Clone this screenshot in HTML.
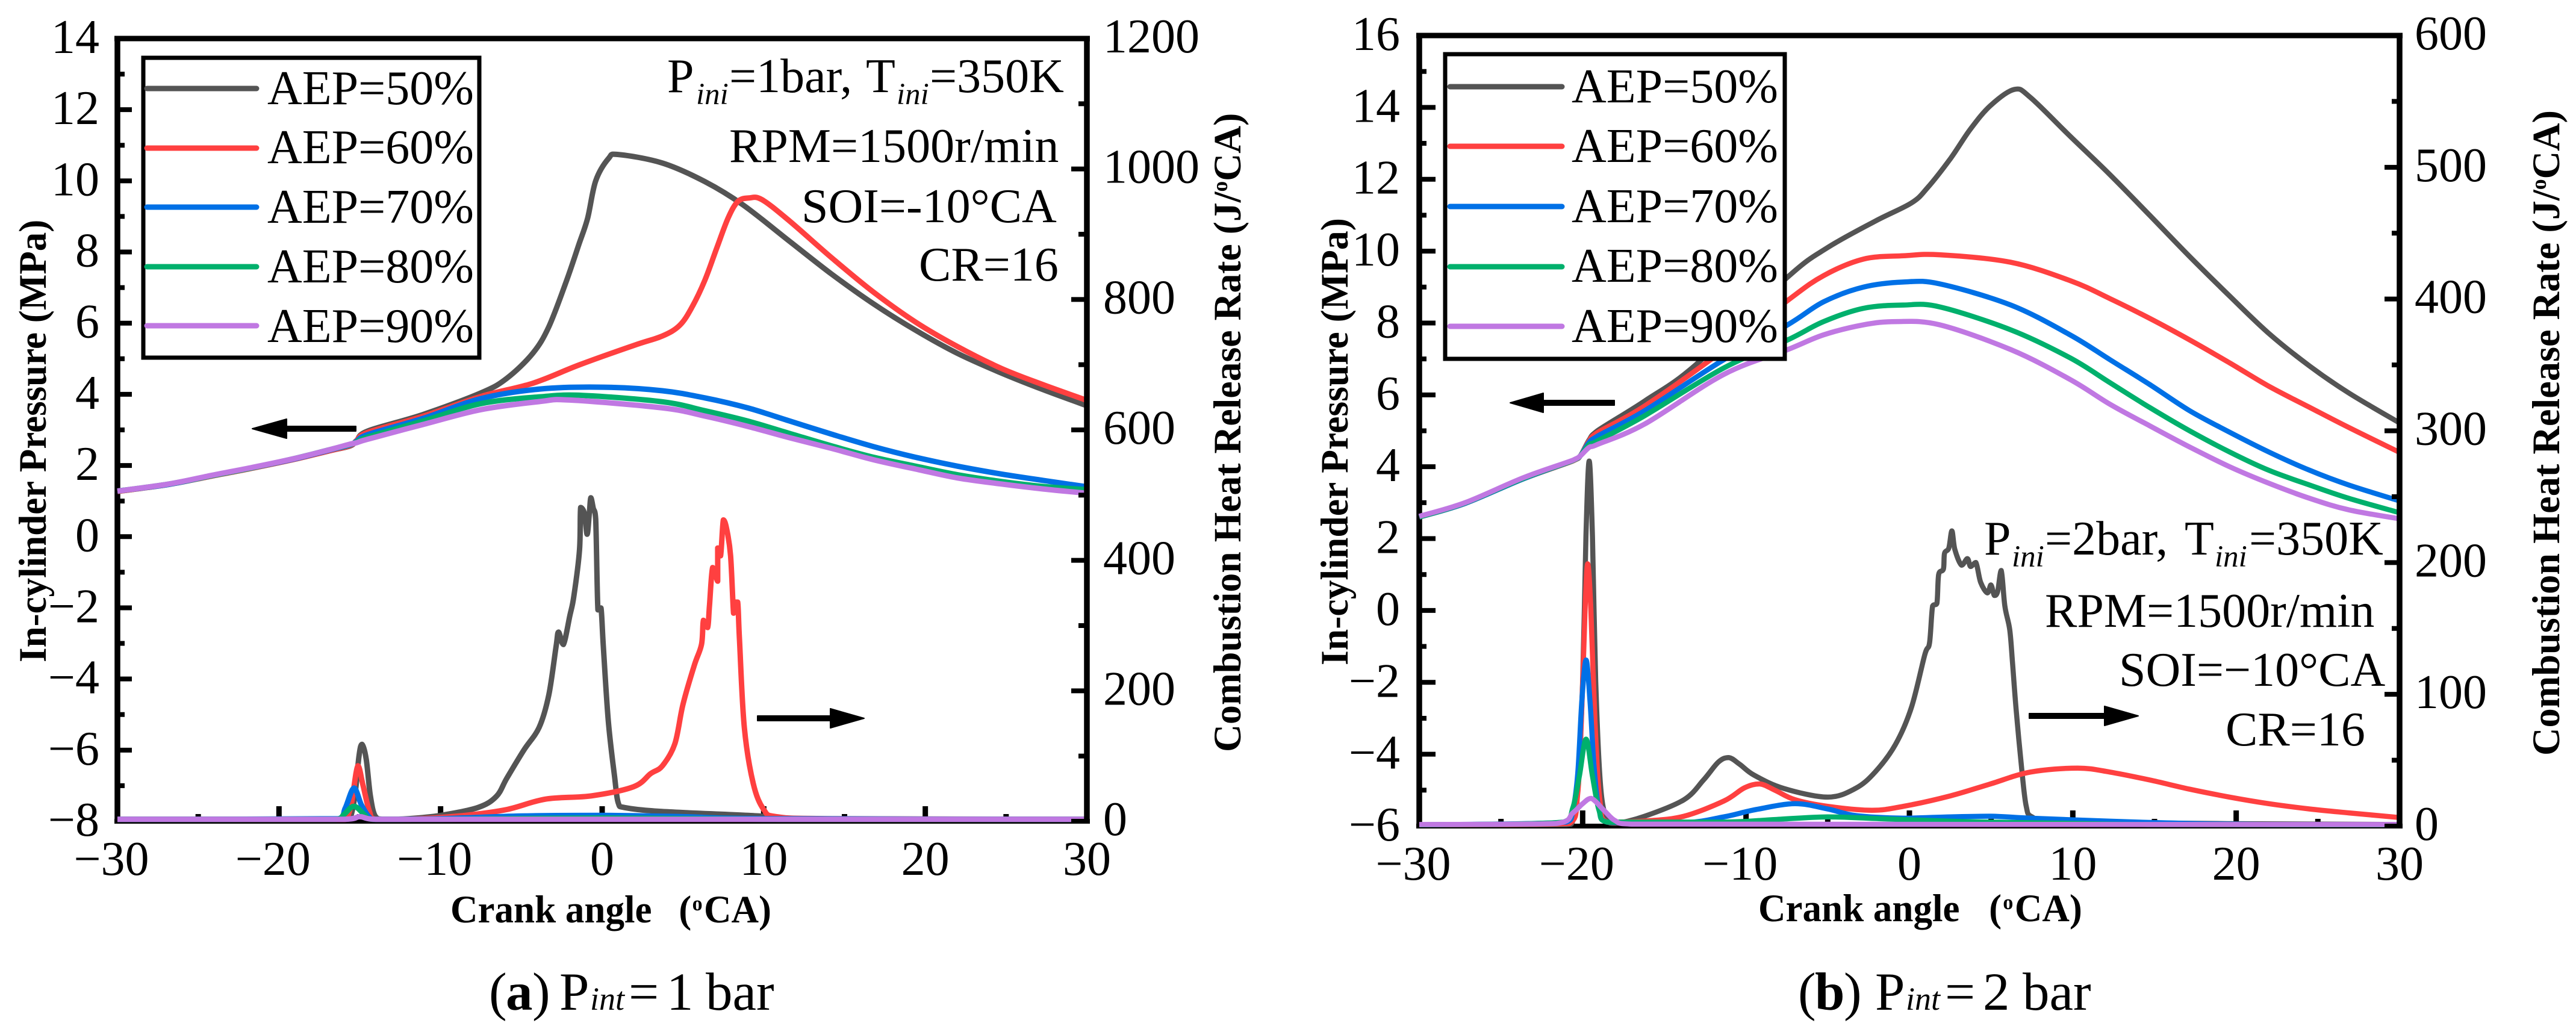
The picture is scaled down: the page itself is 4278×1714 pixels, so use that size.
<!DOCTYPE html>
<html lang="en">
<head>
<meta charset="utf-8">
<title>In-cylinder pressure and heat release rate</title>
<style>
html,body{margin:0;padding:0;background:#fff;}
svg{display:block;}
text{font-family:"Liberation Serif","Times New Roman",serif;fill:#000;}
.t{font-size:80px;}
.leg{font-size:80px;}
.sub{font-size:51px;font-style:italic;}
.b{font-weight:bold;}
.cap{font-size:89px;}
.capsub{font-size:54px;font-style:italic;}
</style>
</head>
<body>
<svg id="figure" xmlns="http://www.w3.org/2000/svg" width="4278" height="1714" viewBox="0 0 4278 1714">
<rect x="0" y="0" width="4278" height="1714" fill="#fff"/>

<g id="panel-a"></g>
<g id="panel-b"></g>

<!-- Panel A legend -->
<g>
  <rect x="238" y="96" width="558" height="498" fill="#fff" stroke="#000" stroke-width="7"/>
  <g><line x1="244" y1="147" x2="426" y2="147" stroke="#545454" stroke-width="9" stroke-linecap="round"/><text class="leg" x="444" y="173">AEP=50%</text></g>
  <g><line x1="244" y1="246" x2="426" y2="246" stroke="#ff4040" stroke-width="9" stroke-linecap="round"/><text class="leg" x="444" y="271">AEP=60%</text></g>
  <g><line x1="244" y1="344" x2="426" y2="344" stroke="#0070e6" stroke-width="9" stroke-linecap="round"/><text class="leg" x="444" y="370">AEP=70%</text></g>
  <g><line x1="244" y1="443" x2="426" y2="443" stroke="#00b06c" stroke-width="9" stroke-linecap="round"/><text class="leg" x="444" y="469">AEP=80%</text></g>
  <g><line x1="244" y1="541" x2="426" y2="541" stroke="#c078e2" stroke-width="9" stroke-linecap="round"/><text class="leg" x="444" y="568">AEP=90%</text></g>
</g>

<!-- Panel A annotations -->
<g>
  <text class="t"><tspan x="1108" y="153">P</tspan><tspan class="sub" x="1156" y="173">ini</tspan><tspan x="1211" y="153">=1bar,</tspan><tspan x="1438" y="153">T</tspan><tspan class="sub" x="1489" y="173">ini</tspan><tspan x="1544" y="153">=350K</tspan></text>
  <text class="t" x="1211" y="269">RPM=1500r/min</text>
  <text class="t" x="1331" y="369">SOI=-10°CA</text>
  <text class="t" x="1526" y="466">CR=16</text>
</g>

<!-- Panel A arrows -->
<path d="M419 712 L476 696 L476 708 L591 708 L591 716 L476 716 L476 728 Z" fill="#000" stroke="#000" stroke-width="2" stroke-linejoin="round"/>
<path d="M1435 1193 L1379 1177 L1379 1189 L1258 1189 L1258 1197 L1379 1197 L1379 1209 Z" fill="#000" stroke="#000" stroke-width="2" stroke-linejoin="round"/>

<!-- Panel A titles -->
<text class="b" font-size="65" transform="translate(76,1100) rotate(-90) scale(0.97,1)">In-cylinder Pressure (MPa)</text>
<text class="b" font-size="65" transform="translate(2060,1249) rotate(-90) scale(0.98,1)">Combustion Heat Release Rate (J/<tspan font-size="36" dy="-22">o</tspan><tspan dy="22">CA)</tspan></text>
<text class="b" font-size="65" transform="translate(748,1532) scale(0.97,1)"><tspan x="0" y="0">Crank angle</tspan><tspan x="391" y="0">(</tspan><tspan font-size="35" x="414" y="-20">o</tspan><tspan x="434" y="0">CA)</tspan></text>
<text class="cap"><tspan x="812" y="1677">(</tspan><tspan class="b" x="840" y="1677">a</tspan><tspan x="884" y="1677">)</tspan><tspan x="929" y="1677">P</tspan><tspan class="capsub" x="980" y="1677">int</tspan><tspan x="1044" y="1677">=</tspan><tspan x="1107" y="1677">1</tspan><tspan x="1172" y="1677">bar</tspan></text>

<!-- Panel B legend -->
<g>
  <rect x="2400" y="90" width="564" height="506" fill="#fff" stroke="#000" stroke-width="7"/>
  <g><line x1="2408" y1="144" x2="2594" y2="144" stroke="#545454" stroke-width="9" stroke-linecap="round"/><text class="leg" x="2610" y="170">AEP=50%</text></g>
  <g><line x1="2408" y1="243" x2="2594" y2="243" stroke="#ff4040" stroke-width="9" stroke-linecap="round"/><text class="leg" x="2610" y="269">AEP=60%</text></g>
  <g><line x1="2408" y1="343" x2="2594" y2="343" stroke="#0070e6" stroke-width="9" stroke-linecap="round"/><text class="leg" x="2610" y="369">AEP=70%</text></g>
  <g><line x1="2408" y1="443" x2="2594" y2="443" stroke="#00b06c" stroke-width="9" stroke-linecap="round"/><text class="leg" x="2610" y="468">AEP=80%</text></g>
  <g><line x1="2408" y1="542" x2="2594" y2="542" stroke="#c078e2" stroke-width="9" stroke-linecap="round"/><text class="leg" x="2610" y="568">AEP=90%</text></g>
</g>

<!-- Panel B annotations -->
<g>
  <text class="t"><tspan x="3295" y="921">P</tspan><tspan class="sub" x="3341" y="941">ini</tspan><tspan x="3396" y="921">=2bar,</tspan><tspan x="3628" y="921">T</tspan><tspan class="sub" x="3678" y="941">ini</tspan><tspan x="3735" y="921">=350K</tspan></text>
  <text class="t" x="3396" y="1041">RPM=1500r/min</text>
  <text class="t" x="3519" y="1139">SOI=−10°CA</text>
  <text class="t" x="3696" y="1238">CR=16</text>
</g>

<!-- Panel B arrows -->
<path d="M2508 669 L2563 653 L2563 665 L2681 665 L2681 673 L2563 673 L2563 685 Z" fill="#000" stroke="#000" stroke-width="2" stroke-linejoin="round"/>
<path d="M3551 1189 L3495 1173 L3495 1185 L3370 1185 L3370 1193 L3495 1193 L3495 1205 Z" fill="#000" stroke="#000" stroke-width="2" stroke-linejoin="round"/>

<!-- Panel B titles -->
<text class="b" font-size="65" transform="translate(2238,1105) rotate(-90) scale(0.98,1)">In-cylinder Pressure (MPa)</text>
<text class="b" font-size="65" transform="translate(4250,1255) rotate(-90) scale(0.99,1)">Combustion Heat Release Rate (J/<tspan font-size="36" dy="-22">o</tspan><tspan dy="22">CA)</tspan></text>
<text class="b" font-size="65" transform="translate(2920,1530) scale(0.97,1)"><tspan x="0" y="0">Crank angle</tspan><tspan x="395" y="0">(</tspan><tspan font-size="35" x="419" y="-20">o</tspan><tspan x="439" y="0">CA)</tspan></text>
<text class="cap"><tspan x="2986" y="1677">(</tspan><tspan class="b" x="3014" y="1677">b</tspan><tspan x="3062" y="1677">)</tspan><tspan x="3114" y="1677">P</tspan><tspan class="capsub" x="3165" y="1677">int</tspan><tspan x="3230" y="1677">=</tspan><tspan x="3293" y="1677">2</tspan><tspan x="3359" y="1677">bar</tspan></text>
</svg>

<script>
// ---------- shared tick values ----------
const crankTicks = [-30, -20, -10, 0, 10, 20, 30];
const crankMinorTicks = [-25, -15, -5, 5, 15, 25];

// ---------- panel A axes ----------
const aPressureTicks = [-8, -6, -4, -2, 0, 2, 4, 6, 8, 10, 12, 14];
const aPressureMinorTicks = [-7, -5, -3, -1, 1, 3, 5, 7, 9, 11, 13];
const aHeatTicks = [0, 200, 400, 600, 800, 1000, 1200];
const aHeatMinorTicks = [100, 300, 500, 700, 900, 1100];

// ---------- panel A pressure (MPa) ----------
const aPressAngle50 = [-30, -26.8, -24.2, -21.6, -19, -16.9, -15.6, -15.2, -14.5, -11.1, -7.5, -5.9, -4.3, -3.3, -2.2, -1.45, -0.9, -0.4, 0.4, 1.0, 3.73, 6.35, 8.7, 11.6, 14.2, 16.8, 19.4, 22, 24.7, 27.3, 30];
const aPress50 = [1.27, 1.47, 1.7, 1.93, 2.18, 2.41, 2.55, 2.7, 2.97, 3.43, 4.04, 4.45, 5.15, 5.9, 7.2, 8.2, 8.95, 10, 10.63, 10.74, 10.5, 9.98, 9.33, 8.3, 7.38, 6.54, 5.8, 5.15, 4.6, 4.13, 3.68];
const aPressAngle60 = [-30, -26.8, -24.2, -21.6, -19, -16.9, -15.6, -15.2, -14.5, -11.1, -7.5, -4.3, -1.4, 2, 3.73, 4.8, 5.56, 6.35, 7.1, 7.8, 8.4, 9.1, 9.9, 11.6, 14.2, 16.8, 19.4, 22, 24.7, 27.3, 30];
const aPress60 = [1.27, 1.47, 1.7, 1.93, 2.18, 2.41, 2.56, 2.7, 2.93, 3.38, 3.94, 4.31, 4.83, 5.38, 5.64, 5.94, 6.45, 7.2, 8.12, 8.96, 9.42, 9.52, 9.47, 8.87, 7.84, 6.87, 6.03, 5.34, 4.73, 4.27, 3.83];
const aPressAngle70 = [-30, -26.8, -24.2, -21.6, -19, -16.9, -15.6, -15.2, -14.5, -11.1, -7.5, -3.8, 0.1, 3.73, 6.35, 9, 11.6, 14.2, 16.8, 19.4, 22, 24.7, 27.3, 30];
const aPress70 = [1.28, 1.47, 1.71, 1.94, 2.19, 2.43, 2.58, 2.68, 2.87, 3.32, 3.88, 4.15, 4.2, 4.1, 3.9, 3.62, 3.25, 2.88, 2.53, 2.23, 1.98, 1.76, 1.58, 1.4];
const aPressAngle80 = [-30, -26.8, -24.2, -21.6, -19, -16.9, -15.6, -15.2, -14.5, -11.1, -7.5, -3.8, -1.2, 3.73, 6.35, 9, 11.6, 14.2, 16.8, 19.4, 22, 24.7, 27.3, 30];
const aPress80 = [1.28, 1.48, 1.71, 1.94, 2.2, 2.44, 2.59, 2.66, 2.8, 3.25, 3.74, 3.93, 3.97, 3.79, 3.54, 3.25, 2.9, 2.55, 2.23, 1.98, 1.74, 1.55, 1.41, 1.32];
const aPressAngle90 = [-30, -26.8, -24.2, -21.6, -19, -16.9, -15.6, -15.2, -14.5, -11.1, -7.5, -3.8, -2, 3.73, 6.35, 9, 11.6, 14.2, 16.8, 19.4, 22, 24.7, 27.3, 30];
const aPress90 = [1.28, 1.48, 1.72, 1.95, 2.2, 2.44, 2.6, 2.64, 2.74, 3.15, 3.57, 3.8, 3.84, 3.62, 3.39, 3.1, 2.78, 2.48, 2.16, 1.9, 1.65, 1.48, 1.34, 1.22];

// ---------- panel A heat release rate (J/degCA) ----------
const aHeatAngle50 = [-30, -16, -15.6, -15.3, -15.05, -14.86, -14.6, -14.35, -14.05, -13.5, -12, -10, -7.7, -6.55, -5.9, -4.85, -3.9, -3.3, -2.85, -2.7, -2.4, -2, -1.75, -1.4, -1.33, -1.1, -0.93, -0.8, -0.7, -0.55, -0.4, -0.26, -0.07, 0.07, 0.38, 0.77, 1.0, 1.4, 3.7, 9.73, 11, 30];
const aHeat50 = [3, 3, 5, 40, 100, 118, 95, 40, 8, 3, 4, 9, 21, 38, 66, 109, 144, 194, 268, 290, 271, 315, 345, 416, 481, 472, 440, 470, 496, 480, 463, 324, 327, 269, 154, 68, 28, 21, 15, 8, 3, 3];
const aHeatAngle60 = [-30, -16, -15.8, -15.5, -15.12, -14.8, -14.4, -14, -12, -8.5, -5.9, -3.5, -0.66, 1.95, 3, 3.73, 4.5, 5.0, 5.7, 6.15, 6.27, 6.53, 6.64, 6.84, 7.15, 7.15, 7.33, 7.5, 7.7, 7.95, 8.13, 8.2, 8.39, 8.5, 8.8, 9.35, 10, 10.8, 14.2, 30];
const aHeat60 = [3, 3, 4, 30, 85, 55, 15, 3, 3, 9, 18, 34, 39, 53, 73, 85, 119, 179, 239, 271, 308, 297, 330, 389, 368, 419, 407, 462, 449, 407, 319, 336, 336, 278, 144, 58, 18, 7, 4, 3];
const aHeatAngle70 = [-30, -16.3, -15.9, -15.36, -14.9, -14.4, -14, -10, -5, 0, 5, 10, 30];
const aHeat70 = [3, 4, 20, 51, 25, 6, 3, 4, 8, 9, 7, 4, 3];
const aHeatAngle80 = [-30, -16.5, -16, -15.36, -14.7, -14.2, -10, 0, 10, 30];
const aHeat80 = [3, 3, 10, 23, 10, 3, 3, 5, 3, 3];
const aHeatAngle90 = [-30, -16, -15, -14, -10, 30];
const aHeat90 = [3, 3, 7, 3, 3, 3];

// ---------- panel B axes ----------
const bPressureTicks = [-6, -4, -2, 0, 2, 4, 6, 8, 10, 12, 14, 16];
const bPressureMinorTicks = [-5, -3, -1, 1, 3, 5, 7, 9, 11, 13, 15];
const bHeatTicks = [0, 100, 200, 300, 400, 500, 600];
const bHeatMinorTicks = [50, 150, 250, 350, 450, 550];

// ---------- panel B pressure (MPa) ----------
const bPressAngle50 = [-30, -27.2, -23.6, -20.6, -20.15, -19.6, -19.1, -16.2, -13.07, -7.45, -5, -2.07, 0.12, 1.1, 2.52, 3.74, 4.96, 6.42, 7.4, 9.83, 12.27, 14.7, 17.15, 19.6, 22, 24.5, 26.9, 30];
const bPress50 = [2.6, 2.98, 3.67, 4.16, 4.3, 4.75, 5.0, 5.83, 6.84, 9.28, 10.1, 10.84, 11.34, 11.76, 12.58, 13.4, 14.05, 14.5, 14.28, 13.2, 12.13, 11.0, 9.85, 8.75, 7.71, 6.8, 6.05, 5.22];
const bPressAngle60 = [-30, -27.2, -23.6, -20.6, -20.15, -19.6, -19.1, -16.2, -11.36, -7.45, -5.25, -2.8, -0.36, 1.84, 6.2, 9.83, 12.27, 14.7, 17.15, 19.6, 22, 24.5, 26.9, 30];
const bPress60 = [2.6, 2.98, 3.67, 4.16, 4.3, 4.72, 4.95, 5.69, 7.25, 8.63, 9.32, 9.78, 9.87, 9.9, 9.69, 9.18, 8.68, 8.13, 7.53, 6.89, 6.24, 5.65, 5.09, 4.4];
const bPressAngle70 = [-30, -27.2, -23.6, -20.6, -20.15, -19.6, -19.1, -16.2, -11.36, -7.45, -5.25, -2.8, -0.36, 1.84, 6.2, 9.83, 12.27, 14.7, 17.15, 19.6, 22, 24.5, 26.9, 30];
const bPress70 = [2.6, 2.98, 3.67, 4.17, 4.3, 4.68, 4.85, 5.56, 6.98, 7.95, 8.59, 9.0, 9.14, 9.09, 8.5, 7.67, 6.98, 6.29, 5.56, 4.96, 4.41, 3.9, 3.49, 3.05];
const bPressAngle80 = [-30, -27.2, -23.6, -20.6, -20.15, -19.6, -19.1, -16.2, -11.36, -7.45, -5.25, -2.8, -0.36, 1.84, 6.2, 9.83, 12.27, 14.7, 17.15, 19.6, 22, 24.5, 26.9, 30];
const bPress80 = [2.6, 2.99, 3.68, 4.17, 4.3, 4.62, 4.72, 5.42, 6.75, 7.53, 8.04, 8.41, 8.5, 8.45, 7.81, 7.03, 6.34, 5.65, 5.0, 4.41, 3.9, 3.49, 3.12, 2.72];
const bPressAngle90 = [-30, -27.2, -23.6, -20.6, -20.15, -19.6, -19.1, -16.2, -11.36, -7.45, -5.25, -2.8, -0.8, 1.84, 6.2, 9.83, 12.27, 14.7, 17.15, 19.6, 22, 24.5, 26.9, 30];
const bPress90 = [2.62, 3.0, 3.7, 4.18, 4.3, 4.54, 4.62, 5.19, 6.57, 7.26, 7.67, 7.95, 8.04, 7.95, 7.26, 6.43, 5.74, 5.14, 4.55, 4.0, 3.54, 3.12, 2.8, 2.55];

// ---------- panel B heat release rate (J/degCA) ----------
const bHeatAngle50 = [-30, -21, -20.6, -20.3, -20, -19.8, -19.6, -19.4, -19.2, -18.9, -18.5, -18, -16.2, -13.8, -12.6, -11.7, -11.06, -10.4, -9.5, -7.7, -5, -3.3, -2.1, -0.85, 0.12, 0.94, 1.23, 1.42, 1.68, 1.79, 2.08, 2.15, 2.41, 2.6, 2.78, 3.19, 3.55, 3.74, 4.07, 4.36, 4.77, 4.99, 5.2, 5.4, 5.62, 5.84, 6.14, 6.31, 6.54, 6.9, 7.15, 7.5, 9, 30];
const bHeat50 = [1, 1, 4, 30, 110, 220, 277, 220, 110, 30, 5, 2, 7.5, 20, 35, 48.5, 52, 47, 38.6, 28.6, 22, 28.6, 41, 62, 90, 130, 139, 167, 169, 191, 195, 207, 211, 224, 210, 198, 203, 197, 200, 185, 177, 183, 175, 178, 194, 167, 149, 124, 87, 40, 15, 7, 3, 1.2];
const bHeatAngle60 = [-30, -20.8, -20.3, -20.05, -19.85, -19.69, -19.5, -19.25, -18.95, -18.5, -16, -13.8, -11.36, -10.1, -9.16, -8.2, -7, -5, -2.3, -0.37, 2.52, 4.96, 7.4, 10.3, 12.27, 14.7, 17.15, 19.6, 22, 24.5, 26.9, 30];
const bHeat60 = [1, 2, 25, 90, 165, 199, 165, 80, 20, 3, 4, 7.5, 19, 29, 32, 27, 20, 15, 12, 15, 23, 32, 41, 44, 41, 35, 28, 22, 17, 13, 10, 6.5];
const bHeatAngle70 = [-30, -21, -20.6, -20.3, -20.05, -19.79, -19.55, -19.3, -19, -18.5, -13.8, -11.36, -9.4, -7, -5, -3.3, -0.37, 2.5, 5, 7.4, 12.27, 17, 22, 30];
const bHeat70 = [1, 3, 12, 40, 95, 126, 95, 45, 13, 3, 2.5, 7, 12.5, 17, 13, 8, 6, 7, 7.5, 6, 3.7, 2, 1.2, 1];
const bHeatAngle80 = [-30, -21.2, -20.6, -20.2, -19.79, -19.4, -19, -18.5, -11.36, -8.2, -5, -1.6, 2.5, 5, 10, 15, 30];
const bHeat80 = [1, 3, 14, 38, 66, 38, 12, 3, 3, 5, 7, 5.5, 3.7, 3, 2, 1.2, 1];
const bHeatAngle90 = [-30, -21.6, -20.6, -20, -19.47, -18.7, -18, -17, 30];
const bHeat90 = [1.2, 2, 10, 17, 21, 12, 4, 1.5, 1.2];

const SVG_NS = 'http://www.w3.org/2000/svg';
const seriesColors = { 50: '#545454', 60: '#ff4040', 70: '#0070e6', 80: '#00b06c', 90: '#c078e2' };

function makeEl(parent, tag, attrs, name) {
  const el = document.createElementNS(SVG_NS, tag);
  for (const key in attrs) { el.setAttribute(key, attrs[key]); }
  
  
  parent.appendChild(el);
  return el;
}

function clampTo(v, a, b) {
  return Math.min(Math.max(v, Math.min(a, b)), Math.max(a, b));
}

function curvePath(angles, values, sx, sy, clampY) {
  const px = angles.map(sx);
  const py = values.map(sy);
  let d = 'M' + px[0].toFixed(1) + ' ' + py[0].toFixed(1);
  for (let i = 0; i < px.length - 1; i++) {
    const i0 = Math.max(i - 1, 0);
    const i3 = Math.min(i + 2, px.length - 1);
    const c1x = clampTo(px[i] + (px[i + 1] - px[i0]) / 6, px[i], px[i + 1]);
    let c1y = py[i] + (py[i + 1] - py[i0]) / 6;
    const c2x = clampTo(px[i + 1] - (px[i3] - px[i]) / 6, px[i], px[i + 1]);
    let c2y = py[i + 1] - (py[i3] - py[i]) / 6;
    if (clampY) {
      c1y = clampTo(c1y, py[i], py[i + 1]);
      c2y = clampTo(c2y, py[i], py[i + 1]);
    }
    d += 'C' + c1x.toFixed(1) + ' ' + c1y.toFixed(1) + ' ' + c2x.toFixed(1) + ' ' + c2y.toFixed(1) + ' ' + px[i + 1].toFixed(1) + ' ' + py[i + 1].toFixed(1);
  }
  return d;
}

function labelText(v) {
  return String(v).replace('-', '\u2212');
}

function drawPanel(p) {
  const root = document.getElementById(p.rootId);
  const sx = (a) => p.left + (a + 30) / 60 * (p.right - p.left);
  const sp = (v) => p.bottom - (v - p.pMin) / (p.pMax - p.pMin) * (p.bottom - p.top);
  const sh = (v) => p.bottom - v / p.hMax * (p.bottom - p.top);

  // x ticks under the curves
  crankTicks.slice(1, -1).forEach((v) => {
    makeEl(root, 'line', { x1: sx(v), x2: sx(v), y1: p.bottom, y2: p.bottom - p.xMajor, stroke: '#000', 'stroke-width': 9 }, 'x-major-tick');
  });
  crankMinorTicks.forEach((v) => {
    makeEl(root, 'line', { x1: sx(v), x2: sx(v), y1: p.bottom, y2: p.bottom - p.xMinor, stroke: '#000', 'stroke-width': 9 }, 'x-minor-tick');
  });
  crankTicks.forEach((v) => {
    const t = makeEl(root, 'text', { x: sx(v) + (v < 0 ? -10 : 0), y: p.xLabelY, 'text-anchor': 'middle', 'font-size': 80 }, 'x-tick-label');
    t.textContent = labelText(v);
  });

  // left axis
  p.pTicks.forEach((v) => {
    makeEl(root, 'line', { x1: p.left, x2: p.left + p.yMajor, y1: sp(v), y2: sp(v), stroke: '#000', 'stroke-width': 8 }, 'left-major-tick');
    const t = makeEl(root, 'text', { x: p.left - p.labelGap, y: sp(v) + 24, 'text-anchor': 'end', 'font-size': 80 }, 'left-tick-label');
    t.textContent = labelText(v);
  });
  p.pMinor.forEach((v) => {
    makeEl(root, 'line', { x1: p.left, x2: p.left + p.yMinor, y1: sp(v), y2: sp(v), stroke: '#000', 'stroke-width': 8 }, 'left-minor-tick');
  });

  // frame
  makeEl(root, 'line', { x1: p.left - 5, x2: p.right + 5, y1: p.top, y2: p.top, stroke: '#000', 'stroke-width': 9 }, 'top-axis-line');
  makeEl(root, 'line', { x1: p.left - 5, x2: p.right + 5, y1: p.bottom, y2: p.bottom, stroke: '#000', 'stroke-width': 8 }, 'bottom-axis-line');
  makeEl(root, 'line', { x1: p.left, x2: p.left, y1: p.top - 4, y2: p.bottom + 4, stroke: '#000', 'stroke-width': 9.5 }, 'left-axis-line');

  // curves
  p.pressure.forEach((s) => {
    makeEl(root, 'path', { d: curvePath(s.x, s.y, sx, sp, false), fill: 'none', stroke: seriesColors[s.key], 'stroke-width': p.lineWidth, 'stroke-linejoin': 'round' }, 'pressure-curve-aep-' + s.key);
  });
  p.heat.forEach((s) => {
    makeEl(root, 'path', { d: curvePath(s.x, s.y, sx, sh, true), fill: 'none', stroke: seriesColors[s.key], 'stroke-width': p.lineWidth, 'stroke-linejoin': 'round' }, 'heat-release-curve-aep-' + s.key);
  });

  // right axis over the curves
  p.hTicks.forEach((v) => {
    makeEl(root, 'line', { x1: p.right, x2: p.right - p.rMajor, y1: sh(v), y2: sh(v), stroke: '#000', 'stroke-width': 8 }, 'right-major-tick');
    const t = makeEl(root, 'text', { x: p.right + p.labelGapR, y: sh(v) + 23, 'font-size': 80 }, 'right-tick-label');
    t.textContent = String(v);
  });
  p.hMinor.forEach((v) => {
    makeEl(root, 'line', { x1: p.right, x2: p.right - p.rMinor, y1: sh(v), y2: sh(v), stroke: '#000', 'stroke-width': 8 }, 'right-minor-tick');
  });
  makeEl(root, 'line', { x1: p.right, x2: p.right, y1: p.top - 4, y2: p.bottom + 4, stroke: '#000', 'stroke-width': 9.5 }, 'right-axis-line');
}

drawPanel({
  rootId: 'panel-a', left: 195, right: 1805, top: 64, bottom: 1364,
  pMin: -8, pMax: 14, hMax: 1200, lineWidth: 9,
  xMajor: 25, xMinor: 12, yMajor: 24, yMinor: 12, rMajor: 26, rMinor: 14,
  xLabelY: 1453, labelGap: 30, labelGapR: 27,
  pTicks: aPressureTicks, pMinor: aPressureMinorTicks, hTicks: aHeatTicks, hMinor: aHeatMinorTicks,
  pressure: [
    { key: 50, x: aPressAngle50, y: aPress50 },
    { key: 60, x: aPressAngle60, y: aPress60 },
    { key: 70, x: aPressAngle70, y: aPress70 },
    { key: 80, x: aPressAngle80, y: aPress80 },
    { key: 90, x: aPressAngle90, y: aPress90 }
  ],
  heat: [
    { key: 50, x: aHeatAngle50, y: aHeat50 },
    { key: 60, x: aHeatAngle60, y: aHeat60 },
    { key: 70, x: aHeatAngle70, y: aHeat70 },
    { key: 80, x: aHeatAngle80, y: aHeat80 },
    { key: 90, x: aHeatAngle90, y: aHeat90 }
  ]
});

drawPanel({
  rootId: 'panel-b', left: 2357, right: 3985, top: 59, bottom: 1372,
  pMin: -6, pMax: 16, hMax: 600, lineWidth: 8.5,
  xMajor: 26, xMinor: 12, yMajor: 27, yMinor: 12, rMajor: 25, rMinor: 13,
  xLabelY: 1461, labelGap: 32, labelGapR: 25,
  pTicks: bPressureTicks, pMinor: bPressureMinorTicks, hTicks: bHeatTicks, hMinor: bHeatMinorTicks,
  pressure: [
    { key: 50, x: bPressAngle50, y: bPress50 },
    { key: 60, x: bPressAngle60, y: bPress60 },
    { key: 70, x: bPressAngle70, y: bPress70 },
    { key: 80, x: bPressAngle80, y: bPress80 },
    { key: 90, x: bPressAngle90, y: bPress90 }
  ],
  heat: [
    { key: 50, x: bHeatAngle50, y: bHeat50 },
    { key: 60, x: bHeatAngle60, y: bHeat60 },
    { key: 70, x: bHeatAngle70, y: bHeat70 },
    { key: 80, x: bHeatAngle80, y: bHeat80 },
    { key: 90, x: bHeatAngle90, y: bHeat90 }
  ]
});
</script>
</body>
</html>
